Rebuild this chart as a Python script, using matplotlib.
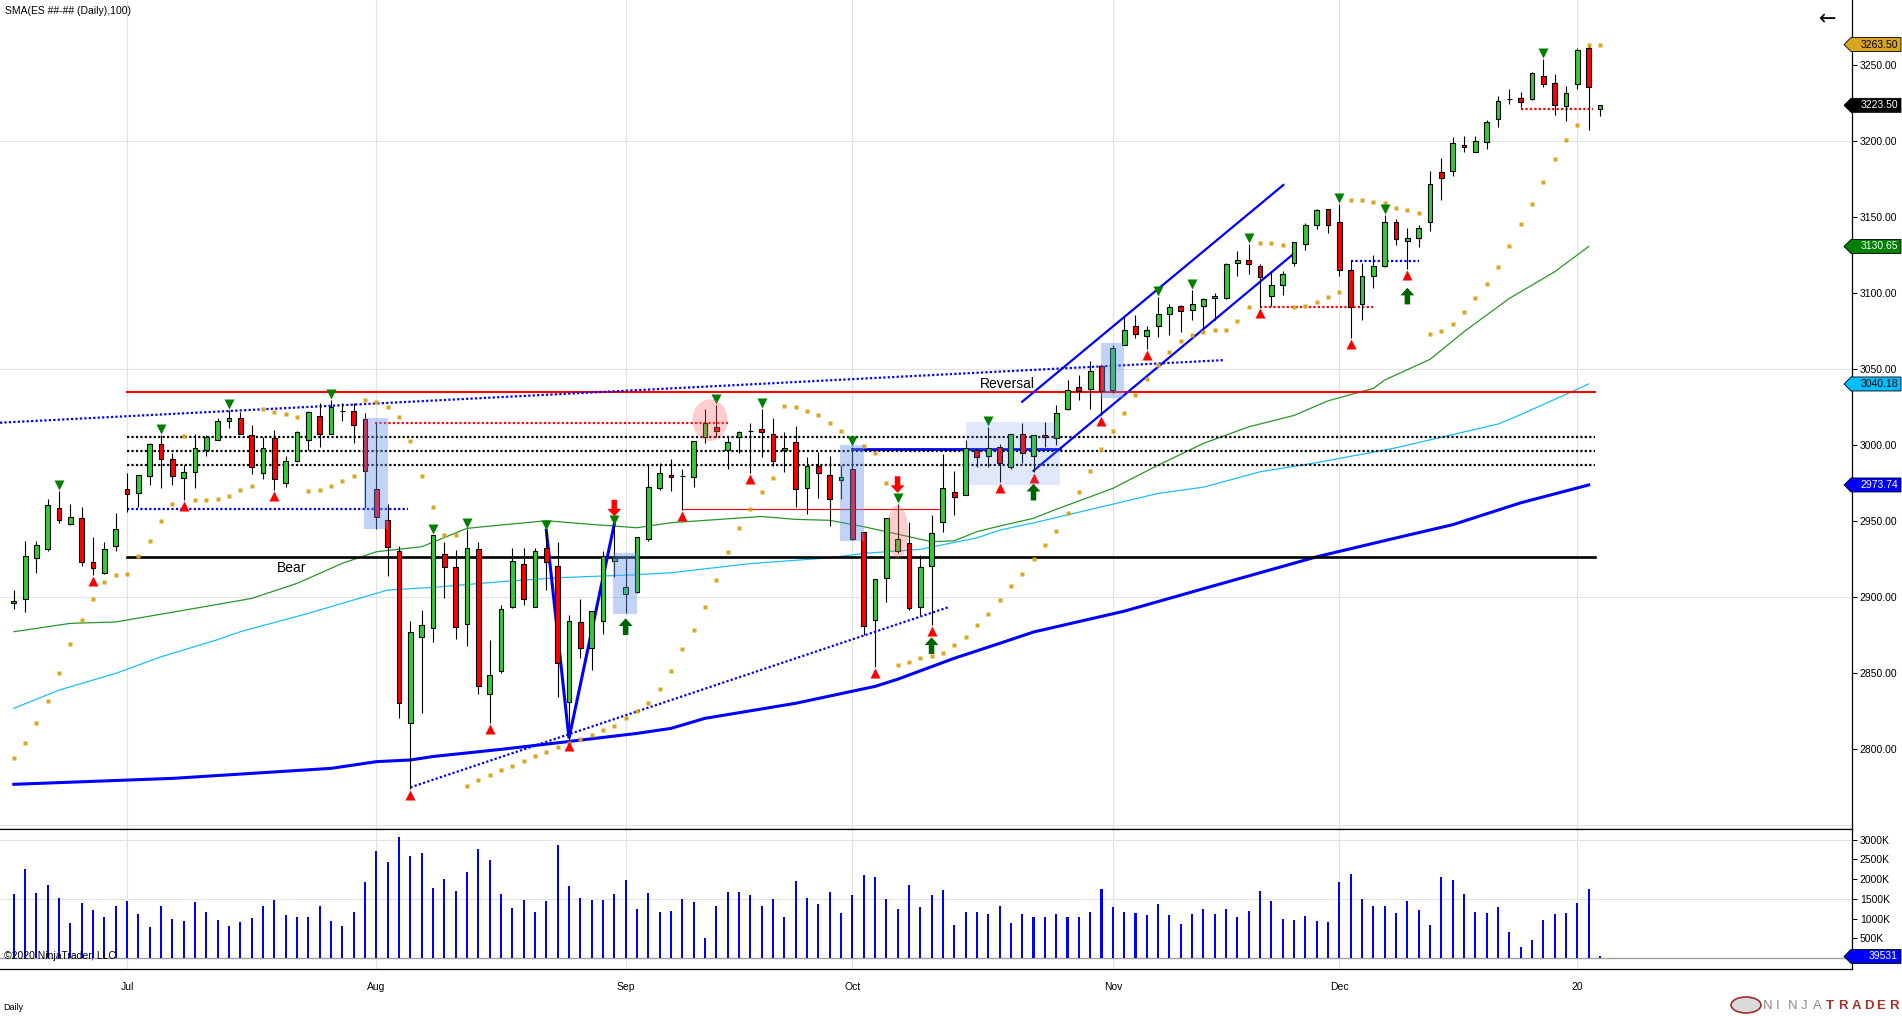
import numpy as np
import matplotlib
matplotlib.use("Agg")
import matplotlib.pyplot as plt
from matplotlib.patches import Rectangle, Ellipse, Polygon, Circle
from matplotlib.transforms import offset_copy, IdentityTransform

plt.rcParams["font.family"] = ["Liberation Sans", "DejaVu Sans"]

# ES daily bars, 17 Jun 2019 .. 6 Jan 2020
opens = [2896, 2898.5, 2925.5, 2931.5, 2958.5, 2948, 2952, 2923, 2915.5, 2933.5,
         2971, 2968.5, 2979.5, 3001, 2991, 2978, 2982.5, 2996.5, 3003.5, 3015.5,
         3018, 3006.5, 2981.5, 3004.5, 2975, 2989.5, 3003.5, 3019, 3007, 3022.5,
         3022.5, 3017, 2971, 2951, 2930, 2817, 2874, 2879.5, 2928.5, 2919.5,
         2882.5, 2931.5, 2836.5, 2851.5, 2893.5, 2922, 2893.5, 2932, 2920.5, 2831,
         2883.5, 2866.5, 2884, 2924, 2902, 2903.5, 2938.5, 2971.5, 2980.5, 2979.5,
         2979, 3005, 3012, 2997, 3005.5, 3009, 3010.5, 3007.5, 2996.5, 3002,
         2971.5, 2986.5, 2980, 2977, 2984.5, 2942.5, 2885, 2912.5, 2930, 2935.5,
         2893.5, 2920.5, 2949.5, 2969, 2967, 2996.5, 2992.5, 2998.5, 2985.5, 3007,
         2992.5, 3006.5, 3004.5, 3023.5, 3038.5, 3037, 3052, 3036, 3066, 3078,
         3072, 3078, 3086.5, 3091.5, 3089, 3091.5, 3096.5, 3097, 3119.5, 3122,
         3117.5, 3098, 3105, 3119.5, 3132, 3144.5, 3155, 3146.5, 3115, 3092.5,
         3111.5, 3118, 3147, 3134, 3136, 3147, 3179.5, 3180, 3197.5, 3193,
         3199.5, 3214.5, 3227.5, 3228.5, 3227.5, 3243, 3238.5, 3223, 3237.5, 3261.5,
         3221]
highs = [2904.5, 2937, 2937, 2964.5, 2969.5, 2961.5, 2959, 2939.5, 2936, 2955,
         2981.5, 2980.5, 3001.5, 3006.5, 2994.5, 2987, 3007.5, 3006.5, 3018, 3023,
         3022, 3013, 3005, 3010, 2993, 3009, 3022.5, 3027.5, 3029.5, 3027.5,
         3027.5, 3021, 3014.5, 2961, 2933.5, 2884, 2891.5, 2940.5, 2936, 2931,
         2944.5, 2936.5, 2871.5, 2894.5, 2932, 2932, 2932.5, 2943.5, 2936.5, 2888.5,
         2899, 2891, 2930.5, 2947, 2926, 2939.5, 2987, 2988, 2991, 2984.5,
         3002.5, 3023.5, 3026.5, 3005.5, 3009, 3014.5, 3024, 3018, 3008.5, 3012.5,
         2992, 2995.5, 2993, 2987, 2999, 2942.5, 2912, 2952, 2961.5, 2949.5,
         2927.5, 2954, 2994, 2983, 3003.5, 2998, 3012, 3001, 3007.5, 3014.5,
         3006.5, 3015, 3026.5, 3043, 3046, 3055, 3052.5, 3065.5, 3084.5, 3085.5,
         3078.5, 3097.5, 3093, 3092, 3102, 3097, 3100, 3119.5, 3127.5, 3132.5,
         3119, 3114.5, 3114.5, 3133.5, 3146, 3155, 3155.5, 3158.5, 3121.5, 3119.5,
         3125, 3151.5, 3149, 3142.5, 3144.5, 3180.5, 3189, 3202.5, 3203.5, 3203.5,
         3214, 3229.5, 3234, 3232, 3245.5, 3254, 3244, 3236.5, 3261.5, 3263,
         3224]
lows = [2892, 2890, 2915.5, 2930, 2948.5, 2947.5, 2920.5, 2914.5, 2915, 2930.5,
        2956, 2959, 2973.5, 2972, 2974, 2964, 2972, 2993, 3003, 3011.5,
        3007.5, 2981, 2977.5, 2970.5, 2972.5, 2989, 2996.5, 2998.5, 3007, 3016,
        3001.5, 2958.5, 2944.5, 2914, 2820.5, 2774, 2824, 2870.5, 2899.5, 2872.5,
        2867.5, 2836.5, 2817, 2850, 2893, 2895, 2893.5, 2904.5, 2834.5, 2806,
        2860, 2852, 2875.5, 2913.5, 2889.5, 2902.5, 2937, 2970.5, 2969.5, 2957.5,
        2972.5, 3001.5, 3005, 2984, 2994.5, 2981.5, 2992, 2986, 2982.5, 2959,
        2954.5, 2965, 2947, 2964.5, 2937.5, 2875, 2854, 2897, 2929, 2891.5,
        2888, 2881.5, 2942.5, 2954, 2967, 2985.5, 2985.5, 2976, 2984, 2988.5,
        2982.5, 2999, 3000, 3023, 3029.5, 3024, 3019.5, 3034, 3065.5, 3070.5,
        3063, 3071, 3072.5, 3074.5, 3082, 3076, 3082.5, 3096, 3111.5, 3112.5,
        3091, 3091.5, 3099, 3117.5, 3128.5, 3142, 3139.5, 3111, 3070.5, 3082,
        3103.5, 3117, 3131.5, 3116, 3130, 3140.5, 3161, 3177, 3192.5, 3192.5,
        3195, 3209, 3224.5, 3222.5, 3227, 3235.5, 3217, 3213.5, 3234, 3207,
        3216.5]
closes = [2897.5, 2927, 2934, 2960.5, 2951, 2952.5, 2923, 2919, 2931.5, 2944.5,
          2968, 2980, 3001, 2991, 2979.5, 2982.5, 2998, 3005, 3016, 3018,
          3007.5, 2985.5, 2998, 2977.5, 2989.5, 3008.5, 3022, 3007, 3025, 3022.5,
          3013, 2983, 2952.5, 2933, 2830.5, 2877, 2881.5, 2940.5, 2920, 2880.5,
          2932.5, 2841.5, 2849, 2892, 2924, 2899, 2930, 2923, 2856.5, 2884,
          2866.5, 2890.5, 2927, 2925.5, 2906.5, 2939.5, 2972.5, 2981.5, 2979, 2979.5,
          3002.5, 3014.5, 3009, 3002, 3008.5, 3009, 3008.5, 2989.5, 2998, 2971,
          2986.5, 2981.5, 2964.5, 2979, 2938.5, 2881, 2912, 2952, 2938, 2893,
          2919.5, 2942, 2971.5, 2966, 2998, 2992, 2998, 2988.5, 3007, 2995,
          3006.5, 3005, 3021, 3036.5, 3035.5, 3048.5, 3035.5, 3064, 3076, 3073,
          3076, 3086.5, 3091, 3088, 3092.5, 3096, 3098, 3119, 3122, 3119,
          3110.5, 3105, 3112.5, 3133.5, 3144.5, 3154.5, 3144.5, 3115, 3091, 3111.5,
          3118, 3146.5, 3135.5, 3136.5, 3143, 3171.5, 3176, 3199, 3196, 3200,
          3212.5, 3226.5, 3227.5, 3226, 3245, 3237.5, 3224, 3231.5, 3260, 3235.5,
          3223.5]
volume_k = [1624, 2259, 1650, 1853, 1523, 888, 1396, 1218, 1041, 1320,
            1447, 1117, 787, 1320, 990, 939, 1421, 1168, 964, 812,
            914, 1015, 1320, 1472, 1091, 1041, 1041, 1320, 939, 812,
            1168, 1929, 2716, 2436, 3071, 2589, 2665, 1777, 2005, 1700,
            2183, 2766, 2487, 1624, 1269, 1472, 1168, 1447, 2868, 1827,
            1523, 1472, 1472, 1624, 1980, 1244, 1650, 1168, 1198, 1485,
            1426, 520, 1320, 1683, 1683, 1599, 1330, 1485, 1053, 1942,
            1513, 1360, 1675, 1150, 1607, 2114, 2046, 1485, 1254, 1865,
            1302, 1589, 1731, 835, 1178, 1160, 1129, 1330, 891, 1129,
            1053, 1053, 1112, 1035, 1035, 1178, 1751, 1284, 1178, 1140,
            1084, 1360, 1084, 853, 1112, 1254, 1112, 1254, 1035, 1198,
            1693, 1437, 997, 959, 1063, 929, 911, 1921, 2142, 1492,
            1312, 1312, 1150, 1437, 1226, 825, 2066, 1970, 1617, 1168,
            1140, 1294, 667, 279, 457, 964, 1117, 1142, 1396, 1751,
            39.531]
psar = [2794.3, 2804.2, 2817.3, 2831.8, 2850.2, 2869.1, 2885.1, 2898.9, 2910.1, 2914.7,
        2915.3, 2927.2, 2937, 2950.2, 2961.2, 3006.1, 2964, 2964, 2964.7, 2966.6,
        2970.4, 2973, 3023.5, 3021.9, 3020.6, 3018.6, 2969.9, 2970.6, 2973, 2976.5,
        2979.6, 3029.6, 3028.5, 3025.2, 3018.6, 3002.6, 2979.6, 2959.2, 2940.8, 2940.8,
        2775.7, 2779.6, 2782.9, 2786.2, 2788.8, 2792.3, 2795.4, 2798.2, 2801.1, 2804.1,
        2806.6, 2809.2, 2812.5, 2815.1, 2820.6, 2825, 2830.5, 2839.7, 2851.5, 2865.6,
        2878.5, 2893.6, 2911.4, 2929.8, 2945.6, 2958.1, 2969.1, 2978.5, 3025.9, 3025.2,
        3022.6, 3019.7, 3014.7, 3009.4, 3003.7, 2999.5, 2994.9, 2975.2, 2855.3, 2857.5,
        2859.7, 2861.2, 2863.4, 2868.4, 2873.9, 2881.6, 2888.8, 2898.3, 2907.5, 2915.4,
        2925, 2934.4, 2943.4, 2955.5, 2969.3, 2983.1, 2997.6, 3009.4, 3020.8, 3032.9,
        3043.4, 3052.6, 3061.4, 3068.6, 3072.4, 3074.6, 3075.7, 3075.7, 3081.6, 3091,
        3132.7, 3132.7, 3131.6, 3091, 3091.4, 3094.3, 3097.6, 3100.9, 3161.4, 3161.4,
        3160.1, 3159, 3156.1, 3154.8, 3152.8, 3073.2, 3075.2, 3079.8, 3087.7, 3096.9,
        3106.1, 3117.3, 3131.1, 3145.4, 3158.8, 3173.3, 3188.4, 3200.9, 3210.8, 3263.5,
        3263.5]

# moving averages, read at a set of bars
sma50_bar = [0, 5, 9, 16, 21, 25, 29, 32, 36, 40, 43, 47, 51, 55, 58, 66, 69, 72, 75, 78,
             81, 83, 85, 87, 90, 92, 97, 101, 105, 109, 113, 116, 120, 121, 125, 128, 132, 136, 139]
sma50 = [2877.2, 2882.7, 2883.6, 2892.6, 2899.1, 2909, 2922.2, 2929.8, 2933.1, 2945.2,
         2947.4, 2950.2, 2947.8, 2945.6, 2948.9, 2953, 2951.1, 2950.5, 2946.3, 2941.4,
         2936.4, 2937, 2943, 2946.7, 2951.8, 2957.7, 2971.5, 2986.8, 3001.1, 3012,
         3019.5, 3029.1, 3037.3, 3042.8, 3056.4, 3074.6, 3096.5, 3114, 3130.65]
sma100_bar = [0, 4, 9, 13, 18, 20, 26, 29, 33, 37, 43, 48, 55, 58, 65, 72, 75, 80, 85, 87,
              90, 97, 101, 105, 110, 115, 122, 127, 131, 133, 139]
sma100 = [2826.8, 2838.8, 2849.8, 2860.7, 2872, 2877.2, 2889.3, 2895.9, 2904.6, 2906.4,
          2910.1, 2912.7, 2914.7, 2916, 2922, 2925.8, 2928.7, 2931.4, 2938.9, 2944,
          2948.8, 2961.1, 2968.2, 2972.3, 2982.4, 2988.4, 2998.2, 3006.9, 3013.8, 3020,
          3040.18]
sma200_bar = [0, 14, 28, 32, 35, 37, 43, 48, 55, 58, 61, 69, 76, 78, 83, 87, 90, 98, 105,
              115, 122, 127, 131, 133, 139]
sma200 = [2776.8, 2780.7, 2787.3, 2791.7, 2792.8, 2795.1, 2799.8, 2804.1, 2810.3, 2813.6,
          2820.2, 2830.1, 2841.2, 2845.9, 2859.7, 2869.5, 2877, 2890.7, 2905.5, 2926.5,
          2938.9, 2947.6, 2957.2, 2962, 2973.74]

swing_high_bars = [4, 13, 19, 28, 37, 40, 47, 53, 62, 66, 74, 78, 86, 101, 104, 109, 117, 121, 135]
swing_low_bars = [7, 15, 23, 35, 42, 49, 59, 65, 76, 81, 87, 90, 96, 100, 110, 118, 123]

month_bars = [10, 32, 54, 74, 97, 117, 138]
month_labels = ["Jul", "Aug", "Sep", "Oct", "Nov", "Dec", "20"]

# hand-drawn chart objects: (bar from, bar to, price)
hlines_solid = [(10, 139.6, 3035.1, "#FF0000", 1.5), (10, 139.6, 2926.5, "black", 1.9),
                (59, 82, 2957.9, "#FF0000", 0.8), (74, 92.3, 2997.4, "#0000FF", 2.0)]
hlines_dotted = [(10, 139.6, 3005.5, "black"), (10, 139.6, 2996.3, "black"),
                 (10, 139.6, 2987.0, "black"), (10, 34.8, 2957.9, "#0000FF"),
                 (31.9, 63, 3014.7, "#FF0000"), (110, 120, 3091, "#FF0000"),
                 (118, 124, 3121.3, "#0000FF"), (133, 139.4, 3221.3, "#FF0000")]
trend_dotted = [((-1.22, 106.9), (3014.7, 3055.9)), ((35, 82.6), (2774.8, 2893.6))]
trend_solid = [((47, 49, 53), (2944, 2807, 2948), 2.2),
               ((89, 112.05), (3028.5, 3171.1), 1.6),
               ((90, 113), (2983.1, 3126.1), 1.6)]
boxes = [(30.9, 33.0, 2944.5, 3017.6, 0.4), (52.9, 55.0, 2888.6, 2928.7, 0.4),
         (72.9, 75.0, 2936.8, 2999.8, 0.4), (84.0, 92.3, 2973.7, 3014.9, 0.2),
         (96.0, 98.0, 3030.7, 3066.9, 0.4)]
ellipses = [(61.45, 3016.4, 3.1, 27.4), (78.0, 2943, 1.9, 35)]
arrows_down = [(53, 2953), (78, 2968.5)]
arrows_up = [(54, 2886), (81, 2873.5), (90, 2974.5), (123, 3103.5)]
notes = [(24.5, 2919, "Bear"), (87.7, 3040.1, "Reversal")]

W, H = 1902, 1016
fig = plt.figure(figsize=(W / 100, H / 100), dpi=100)
ax = fig.add_axes([0, 187 / H, 1852 / W, 829 / H])
axv = fig.add_axes([0, 47 / H, 1852 / W, 140 / H], sharex=ax)

n = len(closes)
bars = np.arange(n)
o, hi, lo, c = map(np.array, (opens, highs, lows, closes))

grid_c = "#E3E3E3"
for b in month_bars:
    ax.axvline(b, color=grid_c, lw=0.8, zorder=0)
    axv.axvline(b, color=grid_c, lw=0.8, zorder=0)
for p in (2750, 2900, 3050, 3200):
    ax.axhline(p, color=grid_c, lw=0.8, zorder=0)
for v in (1500, 3000):
    axv.axhline(v, color=grid_c, lw=0.8, zorder=0)

# moving averages
ax.plot(sma200_bar, sma200, color="#0000FF", lw=2.2, zorder=2)
ax.plot(sma100_bar, sma100, color="#1EBEF5", lw=0.9, zorder=2)
ax.plot(sma50_bar, sma50, color="#2A952A", lw=0.9, zorder=2)

# drawing objects
for x0, x1, p, col, lw in hlines_solid:
    ax.plot([x0, x1], [p, p], color=col, lw=lw, zorder=2.5)
for x0, x1, p, col in hlines_dotted:
    ax.plot([x0, x1], [p, p], color=col, lw=1.6, ls=(0, (1, 1)), zorder=2.5)
for xs, ps in trend_dotted:
    ax.plot(xs, ps, color="#0000FF", lw=1.6, ls=(0, (1, 1)), zorder=2.5)
for xs, ps, lw in trend_solid:
    ax.plot(xs, ps, color="#0000FF", lw=lw, zorder=2.5, solid_joinstyle="miter")

# candles
up = c >= o
colors = np.where(up, "#32CD32", "#FF0000")
ax.vlines(bars, lo, hi, color="black", lw=0.8, zorder=3)
body = np.maximum(np.abs(c - o), 0.01)
ax.bar(bars, body, bottom=np.minimum(o, c), width=0.42, color=colors,
       edgecolor="black", linewidth=0.8, zorder=4)

# parabolic SAR
ax.plot(bars, psar, "s", ms=3.1, color="#DAA520", mec="none", zorder=3.5)

# swing markers
tr_up = offset_copy(ax.transData, fig=fig, y=6, units="dots")
tr_dn = offset_copy(ax.transData, fig=fig, y=-6, units="dots")
ax.plot(swing_high_bars, hi[swing_high_bars], "v", ms=6.5, color="#008000",
        mec="none", transform=tr_up, zorder=5)
ax.plot(swing_low_bars, lo[swing_low_bars], "^", ms=6.5, color="#FF0000",
        mec="none", transform=tr_dn, zorder=5)

for x0, x1, p0, p1, a in boxes:
    ax.add_patch(Rectangle((x0, p0), x1 - x0, p1 - p0, fc="#6495ED", alpha=a,
                           ec="none", zorder=6))
for xc, pc, w, h in ellipses:
    ax.add_patch(Ellipse((xc, pc), w, h, fc="#FF6666", alpha=0.32, ec="none", zorder=6))

astyle = "simple,head_width=1.0,head_length=0.55,tail_width=0.4"
for b, p in arrows_down:
    ax.annotate("", xy=(b, p), xytext=(0, 12), textcoords="offset points",
                arrowprops=dict(arrowstyle=astyle, color="#FF0000", lw=0,
                                shrinkA=0, shrinkB=0), zorder=7)
for b, p in arrows_up:
    ax.annotate("", xy=(b, p), xytext=(0, -12), textcoords="offset points",
                arrowprops=dict(arrowstyle=astyle, color="#006400", lw=0,
                                shrinkA=0, shrinkB=0), zorder=7)

for b, p, t in notes:
    ax.text(b, p, t, fontsize=10, ha="center", va="center", zorder=7)

# volume
axv.bar(bars, volume_k, width=0.18, color="#0000FF", zorder=3)
axv.axhline(0, color="#A0A0A0", lw=1.0, zorder=2)

ax.set_xlim(-1.218, 162.24)
ax.set_ylim(2747.4, 3292.8)
axv.set_ylim(-279, 3274)

for a in (ax, axv):
    a.spines["left"].set_visible(False)
    a.yaxis.tick_right()
    a.tick_params(axis="y", length=3.6, width=0.7, pad=2, labelsize=7.5, direction="out")
ax.spines["top"].set_visible(False)
ax.set_yticks(np.arange(2800, 3251, 50))
ax.set_yticklabels([f"{v:.2f}" for v in np.arange(2800, 3251, 50)])
ax.tick_params(axis="x", bottom=False, labelbottom=False)
axv.set_yticks(np.arange(500, 3001, 500))
axv.set_yticklabels([f"{v}K" for v in range(500, 3001, 500)])
axv.set_xticks(month_bars)
axv.set_xticklabels(month_labels)
axv.tick_params(axis="x", length=0, pad=9, labelsize=7.5)
for a in (ax, axv):
    for s in a.spines.values():
        s.set_linewidth(0.9)

# price tags on the right axis
fig.canvas.draw()


def tag(axis, value, text, fc, tc):
    y = axis.transData.transform((0, value))[1]
    pts = [(1844, y), (1851, y + 7), (1901, y + 7), (1901, y - 7), (1851, y - 7)]
    fig.add_artist(Polygon(pts, closed=True, fc=fc, ec="black", lw=0.6,
                           transform=IdentityTransform(), zorder=10))
    fig.text(1898 / W, y / H, text, ha="right", va="center", color=tc,
             fontsize=7.5, zorder=11)


tag(ax, psar[-1], f"{psar[-1]:.2f}", "#DAA520", "black")
tag(ax, closes[-1], f"{closes[-1]:.2f}", "black", "white")
tag(ax, sma50[-1], f"{sma50[-1]:.2f}", "#008000", "white")
tag(ax, sma100[-1], f"{sma100[-1]:.2f}", "#00BFFF", "black")
tag(ax, sma200[-1], f"{sma200[-1]:.2f}", "#0000FF", "white")
tag(axv, volume_k[-1], f"{volume_k[-1] * 1000:.0f}", "#0000FF", "white")

fig.text(5 / W, 1 - 11 / H, "SMA(ES ##-## (Daily),100)", fontsize=7.5, va="center")
fig.text(1828 / W, 1 - 19 / H, "\u2190", fontsize=15, ha="center", va="center",
         family="DejaVu Sans")
fig.text(4 / W, 1 - 956 / H, "\u00a92020 NinjaTrader, LLC", fontsize=7.5, va="center")
fig.text(3 / W, 1 - 1007 / H, "Daily", fontsize=6.5, va="center")

# NinjaTrader logo
fig.add_artist(Circle((1746 / W, 1 - 1005 / H), 8 / H, fc="#D9D9D9", ec="#9B2F2A",
                      lw=1.2, transform=fig.transFigure))
for k, ch in enumerate("NINJATRADER"):
    fig.text((1763 + k * 12.6) / W, 1 - 1006 / H, ch, fontsize=9.5, ha="left",
             va="center", color="#8A8A8A" if k < 5 else "#A3322C",
             fontweight="light" if k < 5 else "bold")

fig.savefig("out.png", dpi=100)
